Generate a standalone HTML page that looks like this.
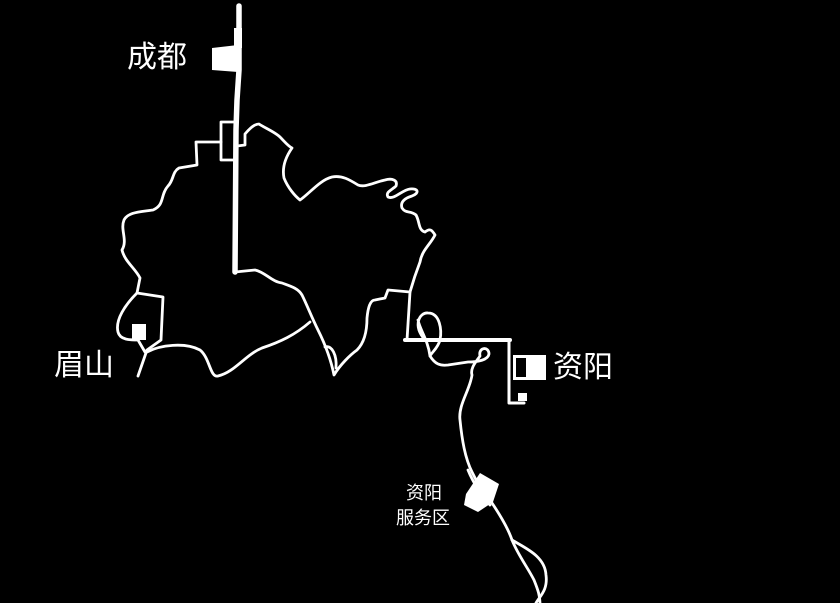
<!DOCTYPE html>
<html><head><meta charset="utf-8"><style>
html,body{margin:0;padding:0;background:#000;}
svg{display:block}
text{font-family:"Liberation Sans","Noto Sans CJK SC",sans-serif;fill:#fff}
</style></head><body>
<svg width="840" height="603" viewBox="0 0 840 603" xmlns="http://www.w3.org/2000/svg">
<rect width="840" height="603" fill="#000"/>
<g fill="none" stroke="#fff" stroke-width="2.8" stroke-linejoin="round" stroke-linecap="round">
<path d="M239 6 L239 70 L237 100 L236 130 L235 272" stroke-width="5.5"/>
<rect x="221" y="122" width="15" height="38"/>
<path d="M221 142 L196 142 L197 165 L179 168 C172 172 174 180 168 186 C160 195 165 205 153 210 C140 212 128 212 124 220 C120 230 128 240 122 250 C125 262 135 268 140 278 L137 293"/>
<path d="M137 293 L163 297 L161 340 L147 350 L138 376"/>
<path d="M137 293 C125 305 115 320 118 332 C120 340 130 340 138 340 L145 352"/>
<path d="M147 352 C160 345 185 342 200 350 C210 358 210 378 218 376 C235 372 245 355 262 348 C280 342 295 335 310 322"/>
<path d="M235 272 L255 270 C265 272 272 282 282 283 C290 286 298 288 302 295 C307 305 312 318 318 330 C323 340 330 355 334 375 C340 365 350 355 357 350 C365 342 367 330 367 318 C368 308 370 300 375 300 L385 298 L388 290 L410 292 L407 340"/>
<path d="M325 347 C332 345 337 355 336 368"/>
<path d="M237 146 L245 145 L245 134 C250 128 255 124 259 124 C265 128 275 132 280 137 C285 142 288 146 292 148 C285 158 282 168 284 178 C288 188 295 196 300 200 C310 193 320 180 332 177 C342 175 350 180 358 185 C365 188 375 182 385 180 C392 178 398 180 396 186 C392 190 385 192 388 197 C394 200 402 190 410 189 C418 188 420 193 412 196 C405 198 400 202 402 208 C406 214 410 210 416 215 C420 222 418 230 425 232 C430 228 432 230 435 235 C430 245 422 250 420 262 C415 275 412 285 410 292"/>
<path d="M405 340 L510 340" stroke-width="4"/>
<path d="M425 340 C412 325 420 312 428 313 C440 313 442 330 440 340 C438 348 432 352 430 356 C428 340 420 330 418 320"/>
<path d="M430 356 C435 364 440 366 448 365 L468 362 C478 362 488 360 489 354 C489 346 478 347 480 356 C476 362 470 368 472 375 C470 390 458 405 460 420 C462 440 465 458 472 472 C478 485 485 495 492 503 C500 515 508 528 512 540 C518 555 528 568 534 580 C538 590 540 596 540 603"/>
<path d="M468 470 C474 485 482 495 490 505"/>
<path d="M512 540 C525 548 545 556 546 575 C548 590 540 596 536 603"/>
<path d="M509 340 L509 403 L524 403" stroke-width="3"/>
</g>
<path d="M212 48 L238 45 L238 72 L212 70 Z" fill="#fff"/>
<path d="M234 28 L242 28 L242 48 L234 48 Z" fill="#fff"/>
<rect x="132" y="324" width="14" height="16" fill="#fff"/>
<rect x="513" y="355" width="33" height="25" fill="#fff"/>
<rect x="516" y="358" width="10" height="19" fill="#000"/>
<rect x="518" y="393" width="9" height="8" fill="#fff"/>
<path d="M466 494 L480 473 L499 484 L493 502 L478 512 L464 505 Z" fill="#fff"/>
<text x="127" y="67" font-size="30">成都</text>
<text x="54" y="375" font-size="30">眉山</text>
<text x="553" y="377" font-size="30">资阳</text>
<text x="406" y="499" font-size="18">资阳</text>
<text x="396" y="524" font-size="18">服务区</text>
</svg>
</body></html>
